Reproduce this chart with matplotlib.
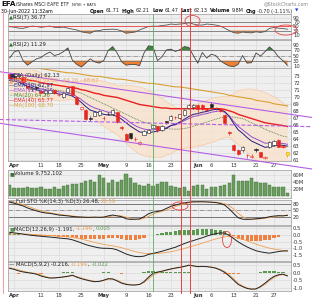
import numpy as np
import matplotlib
matplotlib.use('Agg')
import matplotlib.pyplot as plt
from matplotlib.patches import Ellipse

W, H = 312, 300
BG = '#efefef'
GRID = '#dcdcdc'
RED = '#e8261e'
ORANGE = '#f0a050'
GREEN = '#5a9a50'

# trading days Mar 31 .. Jun 30 2022 (index j)
tick_pos = [1, 7, 11, 16, 21, 26, 31, 36, 42, 45, 50, 55, 59]
tick_lab = ['Apr', '11', '18', '25', 'May', '9', '16', '23', 'Jun', '6', '13', '21', '27']

opens = [73.2, 72.9, 73.0, 72.8, 71.6, 71.1, 71.4, 70.8, 70.5, 70.6, 70.9, 70.2, 69.9, 70.7,
         71.5, 69.9, 68.3, 68.1, 67.0, 67.3, 67.4, 67.0, 67.5, 67.5, 67.8, 65.7, 64.7, 64.8,
         64.0, 63.3, 64.6, 64.9, 65.6, 65.8, 65.2, 66.5, 66.7, 67.1, 67.0, 67.4, 68.4, 68.5,
         68.8, 68.8, 68.3, 69.0, 68.4, 68.3, 67.4, 65.0, 63.2, 62.4, 62.4, 61.7, 61.5, 62.5,
         62.1, 61.3, 62.8, 63.1, 63.8, 63.0, 61.71]
highs = [73.4, 73.1, 73.3, 72.9, 71.7, 71.4, 71.6, 71.0, 71.1, 71.1, 71.0, 70.5, 70.6, 71.4,
         71.6, 70.0, 68.6, 68.2, 67.2, 67.9, 68.1, 67.2, 67.9, 68.3, 67.9, 65.9, 64.8, 64.9,
         64.3, 63.7, 65.2, 65.4, 66.1, 65.9, 66.0, 66.6, 67.4, 67.3, 67.6, 68.2, 68.9, 68.9,
         68.9, 68.9, 68.4, 69.2, 68.6, 68.4, 67.6, 65.1, 63.3, 62.6, 63.0, 61.9, 61.8, 62.7,
         62.2, 61.6, 63.7, 63.8, 64.0, 63.1, 62.21]
lows = [72.6, 72.4, 72.7, 72.0, 71.0, 70.8, 71.0, 70.5, 70.2, 70.5, 70.4, 70.1, 69.8, 70.7,
        70.1, 68.8, 68.1, 66.7, 66.6, 67.2, 67.3, 66.7, 67.4, 67.4, 66.2, 65.3, 63.8, 64.0,
        63.7, 63.1, 64.5, 64.8, 65.5, 65.0, 65.1, 66.1, 66.6, 66.8, 66.9, 67.3, 68.3, 68.3,
        67.6, 68.1, 68.0, 68.4, 68.1, 67.9, 66.2, 64.6, 62.3, 61.7, 62.2, 61.3, 61.3, 62.2,
        61.4, 61.2, 62.7, 63.0, 62.8, 62.7, 61.47]
closes = [72.7, 72.8, 73.0, 72.1, 71.2, 71.2, 71.2, 70.6, 70.9, 70.9, 70.5, 70.3, 70.5, 71.3,
          70.2, 68.9, 68.5, 66.8, 66.9, 67.8, 68.0, 66.95, 67.6, 68.1, 66.4, 65.5, 63.9, 64.1,
          63.95, 63.5, 65.1, 65.3, 66.0, 65.2, 65.9, 66.3, 67.3, 67.05, 67.5, 68.1, 68.8, 68.8,
          68.3, 68.2, 68.1, 68.5, 68.35, 68.0, 66.3, 64.8, 62.4, 61.8, 62.9, 61.65, 61.5, 62.4,
          61.5, 61.45, 63.6, 63.65, 62.9, 62.8, 62.13]

ema10 = [72.3, 72.2, 72.1, 71.8, 71.5, 71.3, 71.0, 70.8, 70.7, 70.6, 70.5, 70.4, 70.3, 70.3,
         70.1, 69.7, 69.2, 68.6, 68.1, 67.9, 67.7, 67.5, 67.4, 67.4, 67.2, 66.8, 66.3, 65.8,
         65.4, 65.0, 64.9, 64.9, 65.0, 65.1, 65.3, 65.5, 65.9, 66.1, 66.4, 66.8, 67.2, 67.5,
         67.6, 67.8, 67.9, 68.1, 68.2, 68.2, 67.9, 67.2, 66.2, 65.3, 64.8, 64.2, 63.7, 63.4,
         63.1, 62.8, 62.9, 63.0, 63.1, 63.1, 62.97]
ema13 = [72.5, 72.4, 72.3, 72.0, 71.8, 71.6, 71.3, 71.1, 71.0, 70.9, 70.8, 70.7, 70.6, 70.5,
         70.4, 70.0, 69.6, 69.1, 68.7, 68.4, 68.2, 68.0, 67.8, 67.8, 67.6, 67.2, 66.8, 66.3,
         65.9, 65.6, 65.4, 65.3, 65.3, 65.4, 65.5, 65.6, 65.9, 66.0, 66.3, 66.6, 66.9, 67.2,
         67.3, 67.5, 67.6, 67.8, 67.9, 68.0, 67.8, 67.3, 66.5, 65.8, 65.3, 64.8, 64.3, 64.0,
         63.7, 63.4, 63.4, 63.4, 63.4, 63.35, 63.24]
ma20 = [72.5, 72.5, 72.4, 72.3, 72.1, 71.9, 71.7, 71.5, 71.3, 71.2, 71.0, 70.9, 70.8, 70.8,
        70.8, 70.7, 70.5, 70.2, 69.9, 69.6, 69.3, 69.0, 68.7, 68.4, 68.1, 67.8, 67.5, 67.2,
        66.9, 66.6, 66.4, 66.2, 66.0, 65.8, 65.6, 65.5, 65.4, 65.4, 65.4, 65.5, 65.6, 65.8,
        66.0, 66.2, 66.4, 66.6, 66.8, 67.0, 67.1, 67.2, 67.1, 67.0, 66.9, 66.6, 66.3, 66.0,
        65.7, 65.4, 65.1, 64.9, 64.6, 64.4, 64.26]
ema40 = [72.6, 72.6, 72.6, 72.5, 72.4, 72.3, 72.2, 72.0, 71.9, 71.8, 71.7, 71.6, 71.5, 71.4,
         71.3, 71.2, 71.0, 70.9, 70.7, 70.5, 70.4, 70.2, 70.1, 70.0, 69.9, 69.7, 69.5, 69.3,
         69.1, 68.9, 68.8, 68.7, 68.6, 68.5, 68.4, 68.4, 68.3, 68.3, 68.3, 68.3, 68.3, 68.3,
         68.3, 68.3, 68.3, 68.3, 68.3, 68.3, 68.2, 68.0, 67.8, 67.5, 67.3, 67.1, 66.9, 66.7,
         66.5, 66.3, 66.2, 66.1, 66.0, 65.9, 65.77]
ma100 = [74.6, 74.5, 74.4, 74.4, 74.3, 74.2, 74.1, 74.0, 73.9, 73.8, 73.7, 73.6, 73.5, 73.4,
         73.4, 73.3, 73.2, 73.1, 73.0, 72.9, 72.9, 72.8, 72.7, 72.6, 72.5, 72.5, 72.4, 72.3,
         72.2, 72.1, 72.0, 71.9, 71.9, 71.8, 71.7, 71.6, 71.5, 71.4, 71.4, 71.3, 71.2, 71.1,
         71.0, 70.9, 70.8, 70.7, 70.6, 70.5, 70.4, 70.2, 70.1, 70.0, 69.9, 69.8, 69.7, 69.5,
         69.4, 69.3, 69.2, 69.0, 68.9, 68.8, 68.70]
bb_up = [74.6, 74.6, 74.5, 74.4, 74.2, 74.0, 73.7, 73.4, 73.0, 72.7, 72.5, 72.3, 72.1, 72.0,
         72.0, 72.1, 72.2, 72.4, 72.4, 72.4, 72.3, 72.2, 72.0, 71.8, 71.6, 71.6, 71.6, 71.6,
         71.5, 71.4, 71.2, 70.9, 70.6, 70.2, 69.8, 69.3, 68.9, 68.5, 68.3, 68.3, 68.5, 68.8,
         69.0, 69.3, 69.5, 69.7, 69.9, 70.0, 70.0, 70.1, 70.5, 70.8, 71.0, 71.1, 71.1, 71.0,
         70.8, 70.6, 70.3, 70.0, 69.6, 69.1, 68.67]
bb_lo = [70.4, 70.4, 70.3, 70.2, 70.0, 69.8, 69.7, 69.6, 69.6, 69.7, 69.5, 69.5, 69.5, 69.6,
         69.6, 69.3, 68.8, 68.0, 67.4, 66.8, 66.3, 65.8, 65.4, 65.0, 64.6, 64.0, 63.4, 62.8,
         62.3, 61.8, 61.6, 61.5, 61.4, 61.4, 61.4, 61.7, 61.9, 62.3, 62.5, 62.7, 62.7, 62.8,
         63.0, 63.1, 63.3, 63.5, 63.7, 64.0, 64.2, 64.3, 63.7, 63.2, 62.8, 62.1, 61.5, 61.0,
         60.6, 60.2, 59.9, 59.8, 59.6, 59.7, 59.80]

volume = [32, 24, 24, 23, 27, 23, 23, 27, 22, 22, 27, 22, 28, 32, 35, 36, 38, 44, 45, 40, 60,
          50, 38, 46, 41, 46, 62, 52, 38, 32, 28, 34, 30, 35, 40, 40, 30, 27, 24, 27, 16, 30,
          33, 32, 20, 26, 26, 30, 31, 38, 60, 44, 44, 44, 50, 40, 38, 38, 32, 27, 25, 25, 9.75]

rsi7 = [49, 47, 42, 41, 47, 52, 50, 46, 49, 52, 46, 45, 47, 42, 37, 33, 24, 20, 17, 28, 30,
        35, 36, 37, 35, 28, 17, 20, 23, 33, 42, 50, 52, 51, 55, 57, 62, 60, 62, 64, 68, 62,
        57, 57, 62, 60, 57, 52, 42, 30, 20, 17, 23, 20, 19, 24, 21, 25, 41, 45, 42, 40, 36.77]
rsi2 = [40, 64, 70, 30, 12, 25, 37, 42, 55, 64, 50, 55, 65, 80, 32, 15, 5, 20, 37, 25, 20,
        30, 70, 85, 60, 25, 12, 15, 15, 10, 60, 88, 85, 30, 45, 72, 75, 66, 73, 85, 82, 50,
        20, 62, 40, 55, 50, 30, 18, 9, 6, 15, 50, 20, 22, 60, 48, 65, 84, 68, 45, 30, 11.29]

sto_k = [90, 85, 78, 72, 62, 55, 48, 42, 38, 36, 32, 28, 26, 24, 21, 19, 18, 17, 17, 18, 17,
         18, 24, 28, 24, 20, 10, 7, 8, 9, 20, 34, 42, 45, 50, 60, 70, 76, 82, 87, 90, 92, 92,
         92, 91, 90, 88, 84, 76, 58, 36, 15, 8, 7, 8, 10, 12, 15, 20, 23, 25, 24, 26.48]
sto_d = [92, 89, 84, 78, 71, 63, 55, 48, 43, 39, 35, 32, 29, 26, 24, 21, 19, 18, 17, 17, 17,
         18, 20, 23, 25, 24, 18, 12, 8, 8, 12, 21, 32, 40, 46, 52, 60, 69, 76, 82, 86, 90, 91,
         92, 92, 91, 90, 87, 83, 73, 57, 36, 20, 10, 8, 8, 10, 12, 16, 19, 23, 24, 28.59]

macd1 = [0.18, 0.14, 0.10, 0.05, 0.0, -0.04, -0.08, -0.11, -0.14, -0.17, -0.20, -0.24, -0.27,
         -0.30, -0.37, -0.48, -0.60, -0.73, -0.82, -0.90, -0.97, -1.00, -1.00, -1.03, -1.12,
         -1.27, -1.42, -1.53, -1.60, -1.62, -1.58, -1.45, -1.38, -1.30, -1.22, -1.12, -1.02,
         -0.92, -0.78, -0.65, -0.53, -0.43, -0.32, -0.22, -0.10, 0.0, 0.08, 0.14, 0.12, -0.05,
         -0.28, -0.52, -0.72, -0.90, -1.05, -1.18, -1.26, -1.32, -1.36, -1.30, -1.24, -1.20, -1.191]
sig1 = [0.05, 0.06, 0.07, 0.06, 0.05, 0.03, 0.01, -0.01, -0.03, -0.05, -0.08, -0.10, -0.13,
        -0.16, -0.20, -0.25, -0.32, -0.40, -0.48, -0.56, -0.64, -0.71, -0.77, -0.82, -0.88,
        -0.96, -1.05, -1.15, -1.24, -1.31, -1.37, -1.40, -1.40, -1.38, -1.35, -1.31, -1.25,
        -1.18, -1.10, -1.01, -0.91, -0.82, -0.72, -0.62, -0.52, -0.41, -0.31, -0.22, -0.15,
        -0.13, -0.16, -0.23, -0.33, -0.45, -0.57, -0.69, -0.80, -0.90, -0.99, -1.05, -1.11,
        -1.16, -1.196]

macd2 = [0.29, 0.22, 0.12, 0.05, 0.0, -0.04, -0.10, -0.22, -0.30, -0.36, -0.35, -0.32, -0.28,
         -0.24, -0.17, -0.30, -0.40, -0.48, -0.55, -0.60, -0.58, -0.50, -0.40, -0.42, -0.55,
         -0.70, -0.78, -0.82, -0.82, -0.78, -0.60, -0.30, -0.05, 0.04, 0.10, 0.18, 0.25, 0.31,
         0.36, 0.42, 0.50, 0.45, 0.40, 0.42, 0.40, 0.36, 0.30, 0.18, 0.02, -0.22, -0.50, -0.78,
         -0.93, -1.05, -1.10, -1.08, -0.92, -0.70, -0.45, -0.25, -0.14, -0.10, -0.216]
sig2 = [0.33, 0.27, 0.18, 0.10, 0.03, -0.02, -0.06, -0.16, -0.26, -0.33, -0.35, -0.33, -0.30,
        -0.26, -0.20, -0.26, -0.35, -0.44, -0.52, -0.58, -0.58, -0.53, -0.44, -0.42, -0.50,
        -0.64, -0.74, -0.80, -0.82, -0.79, -0.66, -0.42, -0.17, -0.03, 0.07, 0.15, 0.23, 0.29,
        0.34, 0.40, 0.47, 0.46, 0.42, 0.42, 0.41, 0.38, 0.32, 0.22, 0.08, -0.14, -0.41, -0.69,
        -0.88, -1.01, -1.08, -1.08, -0.97, -0.78, -0.54, -0.33, -0.19, -0.13, -0.194]

# drawn annotations: trend lines (day index, price), marker days
trend_upper = ([-2.14, 67.5], [73.56, 67.05])
trend_lower = ([-2.14, 67.5], [66.22, 59.72])
trend_mid = ([-2.14, 67.5], [66.76, 65.74])
red_days = [38.2, 40.2]
green_days = [32.0]

XLIM = (-0.36, 62.8)
LEFT, RIGHT = 8, 291
days = np.arange(len(closes))

plt.rcParams['font.family'] = 'DejaVu Sans'
fig = plt.figure(figsize=(W / 100, H / 100), dpi=100)
fig.patch.set_facecolor('white')
rend = fig.canvas.get_renderer()


def panel(top, bottom, ylim, yticks, ylabels=None):
    ax = fig.add_axes([LEFT / W, 1 - bottom / H, (RIGHT - LEFT) / W, (bottom - top) / H])
    ax.set_facecolor(BG)
    ax.set_xlim(*XLIM)
    ax.set_ylim(*ylim)
    ax.set_xticks(tick_pos)
    ax.set_xticklabels([])
    ax.set_yticks(yticks)
    ax.set_yticklabels(ylabels if ylabels else [str(v) for v in yticks])
    ax.yaxis.tick_right()
    ax.tick_params(length=0, labelsize=3.8, pad=1.5, colors='#333333')
    ax.grid(color=GRID, lw=0.5)
    ax.set_axisbelow(True)
    for s in ax.spines.values():
        s.set_color('#a8a8a8')
        s.set_linewidth(0.6)
    return ax


def date_labels(ax):
    ax.set_xticklabels(tick_lab)
    ax.tick_params(axis='x', labelsize=3.8, pad=1.2)
    for t in ax.get_xticklabels():
        if t.get_text() in ('Apr', 'May', 'Jun'):
            t.set_fontweight('bold')


def seq_text(x, y, parts, size=3.8, weight='normal'):
    for s, c in parts:
        t = fig.text(x / W, 1 - y / H, s, color=c, fontsize=size, va='center', ha='left',
                     fontweight=weight)
        x += t.get_window_extent(renderer=rend).width
    return x


def osc_fill(ax, vals, hi, lo):
    v = np.array(vals, float)
    ax.fill_between(days, v, hi, where=v > hi, interpolate=True, color='#3d8a3d', lw=0)
    ax.fill_between(days, v, lo, where=v < lo, interpolate=True, color='#f08030', lw=0)


# RSI(7)
ax = panel(14, 39, (-11, 111), [10, 30, 50, 70, 90])
for lv in (70, 30):
    ax.axhline(lv, color='#777777', lw=0.6)
osc_fill(ax, rsi7, 70, 30)
ax.plot(days, rsi7, color='#555555', lw=0.6)
ax.axhline(50, color='#e84040', lw=0.6)

# RSI(2)
ax = panel(40, 68, (1, 111), [10, 30, 50, 70, 90])
for lv in (70, 30):
    ax.axhline(lv, color='#777777', lw=0.6)
ax.axhline(50, color='#888888', lw=0.5, ls='-.')
osc_fill(ax, rsi2, 70, 30)
ax.plot(days, rsi2, color='#444444', lw=0.6)

# price
axp = panel(68, 161, (60.86, 74.09), list(range(61, 74)))
axp.fill_between(days, bb_lo, bb_up, color='#fbe2cc', alpha=0.75, lw=0)
axp.plot(days, bb_up, color='#f6c9a3', lw=0.5)
axp.plot(days, bb_lo, color='#f6c9a3', lw=0.5)
axp.plot(days, ma100, color='#d9a030', lw=0.8)
axp.plot(days, ema40, color='#e82020', lw=1.0)
axp.plot(days, ma20, color='#4a7a3a', lw=0.6, ls=(0, (1, 1)))
axp.plot(days, ema13, color='#9050d0', lw=0.7)
axp.plot(days, ema10, color='#202080', lw=0.7)
for j in days:
    o, hi, lo, c = opens[j], highs[j], lows[j], closes[j]
    col = RED if (j == 0 or c < closes[j - 1]) else '#222222'
    face = col if c < o else 'white'
    if j == days[-1]:
        col, face = '#e0a000', '#ffe040'
    axp.vlines(j, lo, hi, color=col, lw=0.5, zorder=4)
    axp.bar(j, max(abs(c - o), 0.04), bottom=min(o, c), width=0.7, facecolor=face,
            edgecolor=col, lw=0.4, zorder=5)
for xs, ys, ls in ((trend_upper + ('-',)), (trend_lower + ('-',)), (trend_mid + ('--',))):
    axp.plot(xs, ys, color='#b45ee6', lw=0.8, ls=ls, clip_on=False, zorder=6)
date_labels(axp)

# volume
ax = panel(170, 198.3, (-5, 73.6), [20, 40, 60], ['20M', '40M', '60M'])
ax.bar(days, volume, width=0.72, color='#6b9d5e', edgecolor='#44703c', lw=0.3)

# Full STO
ax = panel(200, 225, (-20, 100.5), [20, 50, 80])
for lv in (80, 20):
    ax.axhline(lv, color='#666666', lw=0.6)
ax.axhline(50, color='#777777', lw=0.5, ls='-.')
ax.plot(days, sto_d, color=ORANGE, lw=0.6)
ax.plot(days, sto_k, color='#222222', lw=0.7)

# MACD(12,26,9)
ax = panel(226, 261, (-1.94, 0.65), [0.5, 0.0, -0.5, -1.0, -1.5],
           ['0.5', '0.0', '-0.5', '-1.0', '-1.5'])
hist1 = np.array(macd1) - np.array(sig1)
ax.bar(days, hist1, width=0.7, color=np.where(hist1 >= 0, GREEN, '#f08040'), lw=0)
ax.plot(days, sig1, color=ORANGE, lw=0.6)
ax.plot(days, macd1, color='#222222', lw=0.7)

# MACD(5,9,2)
ax = panel(262, 291, (-1.22, 0.71), [0.5, 0.0, -0.5, -1.0], ['0.5', '0.0', '-0.5', '-1.0'])
hist2 = np.array(macd2) - np.array(sig2)
ax.bar(days, hist2, width=0.7, color=np.where(hist2 >= 0, GREEN, '#f08040'), lw=0)
ax.plot(days, sig2, color=ORANGE, lw=0.6)
ax.plot(days, macd2, color='#222222', lw=0.7)
date_labels(ax)

# header
hx = seq_text(1, 4.5, [('EFA', '#111111')], size=5.2, weight='bold')
hx = seq_text(hx + 1, 4.8, [('iShares MSCI EAFE ETF', '#222222')], size=3.3)
seq_text(hx + 2, 5.0, [('NYSE + BATS', '#222222')], size=2.6)
fig.text(309 / W, 1 - 4 / H, '@StockCharts.com', fontsize=3.4, color='#888888',
         va='center', ha='right')
fig.text(1 / W, 1 - 11 / H, '30-Jun-2022 11:32am', fontsize=3.4, va='center')
hx = 90
for lab, val in (('Open', '61.71'), ('High', '62.21'), ('Low', '61.47'), ('Last', '62.13'),
                 ('Volume', '9.8M'), ('Chg', '-0.70 (-1.11%)')):
    hx = seq_text(hx, 11, [(lab, '#111111')], size=3.5, weight='bold') + 1
    hx = seq_text(hx, 11, [(val, '#222222')], size=3.5) + 2.5
fig.text(hx / W, 1 - 11 / H, '\u25bc', fontsize=3.2, color='#2040d0', va='center')

# panel legends
seq_text(9, 17, [('\u25b2', '#2a7a2a'), ('RSI(7) 36.77', '#222222')])
seq_text(9, 44, [('\u25b2', '#2a7a2a'), ('RSI(2) 11.29', '#222222')])
seq_text(9, 75, [('\u25a0', '#303060'), ('EFA (Daily) 62.13', '#222222')])
seq_text(9, 80.5, [('\u25b2', '#f0a060'), ('BB(20,2.0) 59.80 - 64.26 - 68.67', '#f0a060')])
seq_text(9, 85.5, [('\u2014', '#202080'), ('EMA(10) 62.97', '#202080')])
seq_text(9, 90.5, [('\u2014', '#9050d0'), ('EMA(13) 63.24', '#9050d0')])
seq_text(9, 95.5, [('\u00b7\u00b7\u00b7', '#4a8a3a'), ('MA(20) 64.26', '#4a8a3a')])
seq_text(9, 100.5, [('\u2014', '#e82020'), ('EMA(40) 65.77', '#e82020')])
seq_text(9, 105.5, [('\u2014', '#d9a030'), ('MA(100) 68.70', '#d9a030')])
seq_text(9, 173.5, [('\u25a0', '#44703c'), ('Volume 9,752,102', '#222222')])
seq_text(9, 201.8, [('\u2014 ', '#222222'), ('Full STO %K(14,3) %D(3) 26.48, ', '#222222'),
                    ('28.59', ORANGE)])
seq_text(9, 229, [('\u25a0', GREEN), ('MACD(12,26,9) -1.191, ', '#222222'),
                  ('-1.196', ORANGE), (', ', '#222222'), ('0.005', GREEN)])
seq_text(9, 264.5, [('\u2014 ', '#222222'), ('MACD(5,9,2) -0.216, ', '#222222'),
                    ('-0.194', ORANGE), (', ', '#222222'), ('-0.022', GREEN)])

# overlay for hand-drawn marks
ov = fig.add_axes([0, 0, 1, 1], zorder=10)
ov.set_xlim(0, W)
ov.set_ylim(H, 0)
ov.axis('off')
ov.patch.set_alpha(0)


def day_px(j):
    return LEFT + (j - XLIM[0]) / (XLIM[1] - XLIM[0]) * (RIGHT - LEFT)


ov.plot([2.5, 2.5], [10, 293], color='#f2a0a8', lw=0.8)
for j in red_days:
    ov.plot([day_px(j)] * 2, [8, 293], color='#e84040', lw=0.7)
for j in green_days:
    ov.plot([day_px(j)] * 2, [14, 291], color='#60b060', lw=0.6)
for (cx, cy, w, h) in ((192.5, 21, 15, 11), (286, 30, 22, 10), (180, 206, 16, 8),
                       (227, 239.5, 9, 16)):
    ov.add_patch(Ellipse((cx, cy), w, h, fill=False, edgecolor='#e84040', lw=0.6))

fig.savefig('out.png', dpi=100)
